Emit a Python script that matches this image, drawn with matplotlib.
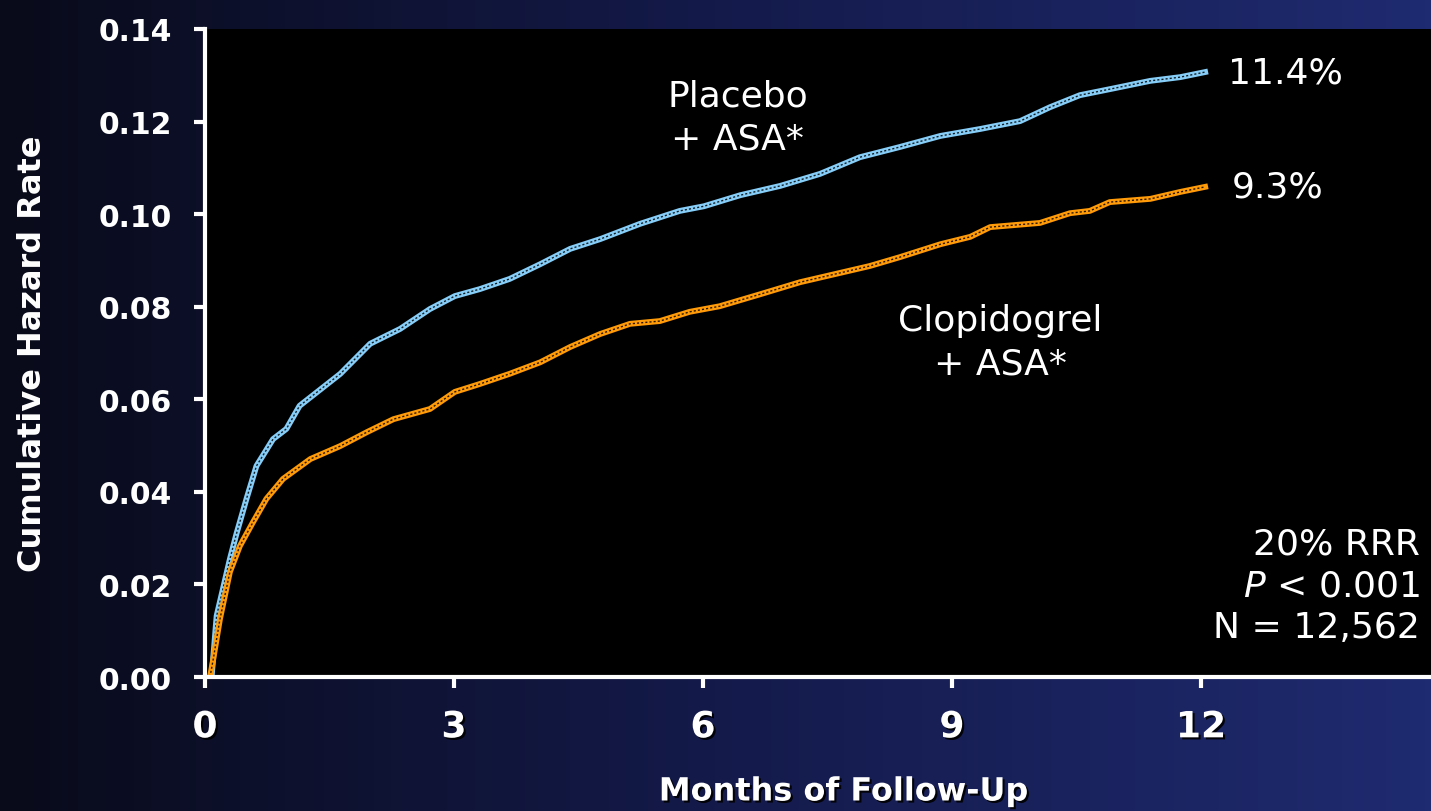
import matplotlib.pyplot as plt
import matplotlib.patheffects as pe
import matplotlib.colors as mcolors
import numpy as np

# months of follow-up and cumulative hazard, placebo arm
placebo_months = [0.08, 0.14, 0.30, 0.38, 0.50, 0.62, 0.82, 0.98, 1.14, 1.63, 1.99,
                  2.35, 2.71, 3.01, 3.31, 3.67, 4.04, 4.40, 4.76, 5.24, 5.72, 6.01,
                  6.45, 6.93, 7.41, 7.89, 8.37, 8.86, 9.34, 9.82, 10.18, 10.54,
                  10.90, 11.39, 11.75, 12.05]
placebo_hazard = [0.0, 0.0132, 0.0255, 0.0310, 0.0385, 0.0456, 0.0514, 0.0536, 0.0586,
                  0.0655, 0.0720, 0.0752, 0.0795, 0.0823, 0.0838, 0.0860, 0.0892,
                  0.0925, 0.0946, 0.0979, 0.1007, 0.1017, 0.1041, 0.1061, 0.1087,
                  0.1123, 0.1145, 0.1169, 0.1184, 0.1201, 0.1231, 0.1257, 0.1270,
                  0.1288, 0.1296, 0.1307]

# clopidogrel arm
clopi_months = [0.06, 0.10, 0.18, 0.30, 0.42, 0.58, 0.74, 0.94, 1.27, 1.63, 1.95,
                2.27, 2.71, 3.01, 3.31, 3.67, 4.04, 4.40, 4.76, 5.12, 5.48, 5.84,
                6.20, 6.69, 7.17, 7.65, 8.01, 8.37, 8.86, 9.22, 9.46, 10.06, 10.42,
                10.66, 10.90, 11.39, 11.75, 12.05]
clopi_hazard = [0.0, 0.0039, 0.0125, 0.0227, 0.0283, 0.0335, 0.0385, 0.0428, 0.0471,
                0.0499, 0.0529, 0.0557, 0.0579, 0.0616, 0.0633, 0.0655, 0.0680,
                0.0713, 0.0741, 0.0763, 0.0769, 0.0789, 0.0801, 0.0827, 0.0853,
                0.0873, 0.0888, 0.0907, 0.0935, 0.0951, 0.0972, 0.0981, 0.1002,
                0.1007, 0.1026, 0.1033, 0.1048, 0.1059]

x_ticks = [0, 3, 6, 9, 12]
y_ticks = [0.00, 0.02, 0.04, 0.06, 0.08, 0.10, 0.12, 0.14]
end_labels = ["11.4%", "9.3%"]
stats_lines = ["20% RRR", "$\\mathit{P}$ < 0.001", "N = 12,562"]

plt.rcParams['font.family'] = ['DejaVu Sans']
plt.rcParams['mathtext.fontset'] = 'dejavusans'

fig = plt.figure(figsize=(14.31, 8.12), dpi=100)

# dark navy horizontal gradient behind everything
bg = fig.add_axes([0, 0, 1, 1], zorder=-1)
cmap = mcolors.LinearSegmentedColormap.from_list("bg", ["#090b1a", "#141a4a", "#1f2b70"])
bg.imshow(np.linspace(0, 1, 256)[None, :], cmap=cmap, aspect="auto", extent=[0, 1, 0, 1])
bg.set_axis_off()

ax = fig.add_axes([205 / 1431, 1 - 678 / 812, 1 - 205 / 1431, 648 / 812])
ax.set_facecolor("black")
ax.set_xlim(0, 1226 / 83)
ax.set_ylim(0, 0.14)

dash = dict(color="black", lw=1.0, dashes=(1.5, 1.5), alpha=0.85)
ax.plot(placebo_months, placebo_hazard, color="#86cdf7", lw=4.2, solid_joinstyle="round")
ax.plot(placebo_months, placebo_hazard, **dash)
ax.plot(clopi_months, clopi_hazard, color="#ff9a08", lw=4.2, solid_joinstyle="round")
ax.plot(clopi_months, clopi_hazard, **dash)

for s in ["top", "right"]:
    ax.spines[s].set_visible(False)
for s in ["left", "bottom"]:
    ax.spines[s].set_color("white")
    ax.spines[s].set_linewidth(3)

shadow = [pe.SimplePatchShadow(offset=(1.5, -1.5), shadow_rgbFace="black", alpha=0.9), pe.Normal()]

ax.set_xticks(x_ticks)
ax.set_xticklabels([str(v) for v in x_ticks], fontsize=26, fontweight="bold",
                   color="white", path_effects=shadow)
ax.set_yticks(y_ticks)
ax.set_yticklabels([f"{v:.2f}" for v in y_ticks], fontsize=21.5, fontweight="bold",
                   color="white")
ax.tick_params(axis="x", length=8, width=3, color="white", pad=16)
ax.tick_params(axis="y", length=8, width=3, color="white", pad=16)

# axis titles placed on the figure so they sit in the outer margin
fig.text(844 / 1431, 1 - 793 / 812, "Months of Follow-Up", fontsize=23, fontweight="bold",
         color="white", ha="center", va="center", path_effects=shadow)
fig.text(33 / 1431, 1 - 354 / 812, "Cumulative Hazard Rate", fontsize=23, fontweight="bold",
         color="white", ha="center", va="center", rotation=90)

txt = dict(color="white", fontsize=26)
ax.text(6.42, 0.121, "Placebo\n+ ASA*", ha="center", va="center", linespacing=1.35, **txt)
ax.text(9.58, 0.0725, "Clopidogrel\n+ ASA*", ha="center", va="center", linespacing=1.35, **txt)
ax.text(placebo_months[-1] + 0.28, placebo_hazard[-1], end_labels[0], ha="left", va="center", **txt)
ax.text(clopi_months[-1] + 0.32, clopi_hazard[-1], end_labels[1], ha="left", va="center", **txt)
ax.text(14.64, 0.0198, "\n".join(stats_lines), ha="right", va="center",
        linespacing=1.3, **txt)

fig.savefig("out.png", dpi=100)
